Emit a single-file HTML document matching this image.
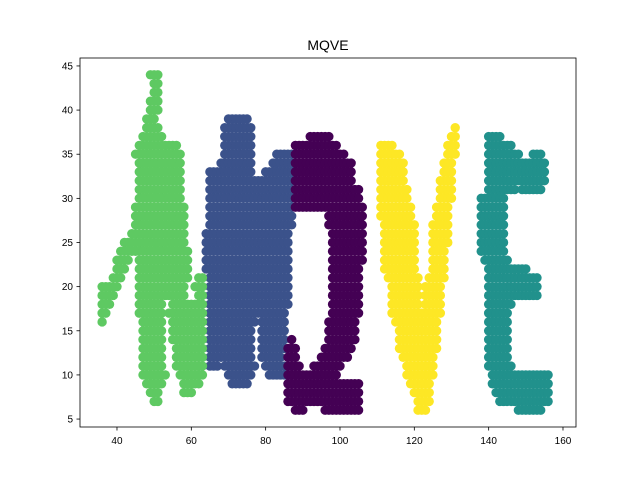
<!DOCTYPE html>
<html><head><meta charset="utf-8"><style>
body{margin:0;background:#fff;}
svg{display:block;font-family:"Liberation Sans","DejaVu Sans",sans-serif;}
</style></head><body>
<svg id="chart" width="640" height="480">
<rect width="640" height="480" fill="#fff"/>
<text x="328" y="50" text-anchor="middle" font-size="14">MQVE</text>
<g id="marks"></g>
<g id="axes"></g>
</svg>
<script>
// Letter shapes as row runs: [y, xStart, xEnd] (integer grid points)
const rowsBlue = [[39,70,75],[38,69,76],[37,69,76],[36,69,76],[35,69,76],[35,83,87],[34,68,76],[34,82,87],[33,65,76],[33,80,87],[32,65,88],[31,65,87],[30,65,87],[29,65,87],[28,65,87],[27,65,87],[26,64,86],[25,64,86],[24,64,86],[23,64,86],[22,64,86],[21,65,86],[20,65,86],[19,65,86],[18,65,86],[17,65,85],[16,65,77],[16,79,85],[15,65,76],[15,79,85],[14,65,76],[14,79,85],[13,65,76],[13,79,85],[12,65,76],[12,79,84],[11,65,67],[11,69,77],[11,80,85],[10,70,76],[10,81,85],[9,71,75]];
const rowsPurple = [[37,92,97],[36,88,99],[35,88,101],[34,88,103],[33,88,103],[32,88,103],[31,88,105],[30,88,105],[29,88,106],[28,97,106],[27,97,106],[26,98,106],[25,98,106],[24,98,106],[23,98,106],[22,98,105],[21,98,105],[20,98,105],[19,98,105],[18,98,105],[17,98,105],[16,97,104],[15,97,104],[14,97,104],[14,87,87],[13,86,88],[13,96,103],[12,86,88],[12,95,102],[11,86,89],[11,93,100],[10,86,99],[9,86,105],[8,86,105],[7,86,105],[6,88,90],[6,96,105]];
const rowsGreen = [[44,49,51],[43,50,51],[42,50,51],[41,49,51],[40,49,51],[39,48,50],[38,48,51],[37,47,52],[36,46,56],[35,45,57],[34,46,57],[33,46,57],[32,46,57],[31,46,57],[30,46,57],[29,45,58],[28,45,58],[27,45,58],[26,44,58],[25,42,58],[24,41,59],[23,40,43],[23,46,59],[22,40,42],[22,46,59],[21,39,41],[21,46,59],[21,62,63],[20,36,40],[20,46,58],[20,61,63],[19,36,39],[19,46,58],[19,62,63],[18,36,38],[18,46,52],[18,55,63],[17,36,37],[17,46,52],[17,54,63],[16,36,36],[16,47,52],[16,55,63],[15,47,52],[15,55,63],[14,47,52],[14,55,63],[13,47,52],[13,56,63],[12,47,52],[12,56,63],[11,47,52],[11,56,63],[10,47,53],[10,57,63],[9,48,52],[9,58,62],[8,49,51],[8,58,60],[7,50,51]];
const rowsYellow = [[38,131,131],[37,130,131],[36,111,114],[36,129,131],[35,111,116],[35,129,131],[34,111,117],[34,128,130],[33,111,117],[33,128,130],[32,111,117],[32,127,130],[31,111,118],[31,127,130],[30,111,118],[30,127,130],[29,111,119],[29,126,129],[28,111,119],[28,126,129],[27,112,120],[27,125,129],[26,112,120],[26,125,129],[25,112,120],[25,125,129],[24,112,120],[24,125,128],[23,112,120],[23,125,128],[22,112,120],[22,125,128],[21,113,121],[21,124,128],[20,114,121],[20,123,127],[19,114,121],[19,123,127],[18,114,121],[18,123,127],[17,114,127],[16,115,126],[15,116,126],[14,116,126],[13,116,126],[12,117,125],[11,118,125],[10,118,125],[9,119,124],[8,120,124],[7,121,124],[6,121,123]];
const rowsTeal = [[37,140,143],[36,140,146],[35,140,148],[35,152,154],[34,140,155],[33,140,155],[32,140,155],[31,140,147],[31,149,154],[30,138,144],[29,138,144],[28,138,144],[27,138,144],[26,138,144],[25,138,144],[24,138,144],[23,139,145],[22,140,150],[21,140,153],[20,140,153],[19,140,153],[18,140,146],[17,140,145],[16,140,145],[15,140,145],[14,140,145],[13,140,145],[12,140,145],[11,140,146],[10,141,156],[9,141,156],[8,142,156],[7,143,156],[6,148,154]];
const xTicks = [40,60,80,100,120,140,160];
const yTicks = [5,10,15,20,25,30,35,40,45];

const L=80,R=576,T=58,B=427, xMin=30.05,xMax=163.5,yMin=4.1,yMax=45.9;
function sx(v){return L+(v-xMin)/(xMax-xMin)*(R-L);}
function sy(v){return B-(v-yMin)/(yMax-yMin)*(B-T);}
const NS="http://www.w3.org/2000/svg";
const marks=document.getElementById('marks');
const series=[["letter-m-blue",rowsBlue,"#3b528b"],["letter-q-purple",rowsPurple,"#440154"],["letter-m-green",rowsGreen,"#5ec962"],["letter-v-yellow",rowsYellow,"#fde725"],["letter-e-teal",rowsTeal,"#21918c"]];
series.forEach(s=>{
  const g=document.createElementNS(NS,'g');
  
  
  g.setAttribute('fill', s[2]);
  s[1].forEach(r=>{
    for(let x=r[1];x<=r[2];x++){
      const c=document.createElementNS(NS,'circle');
      
      
      c.setAttribute('cx',sx(x));c.setAttribute('cy',sy(r[0]));c.setAttribute('r',4.7);
      g.appendChild(c);
    }
  });
  marks.appendChild(g);
});
const axes=document.getElementById('axes');
const frame=document.createElementNS(NS,'rect');


frame.setAttribute('x',L);frame.setAttribute('y',T);frame.setAttribute('width',R-L);frame.setAttribute('height',B-T);
frame.setAttribute('fill','none');frame.setAttribute('stroke','#000');frame.setAttribute('stroke-width','0.8');
axes.appendChild(frame);
xTicks.forEach(t=>{
  const x=sx(t);
  const l=document.createElementNS(NS,'line');
  
  
  l.setAttribute('x1',x);l.setAttribute('x2',x);l.setAttribute('y1',B);l.setAttribute('y2',B+3.5);l.setAttribute('stroke','#000');l.setAttribute('stroke-width','0.8');
  axes.appendChild(l);
  const tx=document.createElementNS(NS,'text');
  
  
  tx.setAttribute('x',x);tx.setAttribute('y',B+17);tx.setAttribute('text-anchor','middle');tx.setAttribute('font-size','10');
  tx.textContent=t;axes.appendChild(tx);
});
yTicks.forEach(t=>{
  const y=sy(t);
  const l=document.createElementNS(NS,'line');
  
  
  l.setAttribute('x1',L-3.5);l.setAttribute('x2',L);l.setAttribute('y1',y);l.setAttribute('y2',y);l.setAttribute('stroke','#000');l.setAttribute('stroke-width','0.8');
  axes.appendChild(l);
  const tx=document.createElementNS(NS,'text');
  
  
  tx.setAttribute('x',L-7);tx.setAttribute('y',y+3.5);tx.setAttribute('text-anchor','end');tx.setAttribute('font-size','10');
  tx.textContent=t;axes.appendChild(tx);
});
</script>
</body></html>
